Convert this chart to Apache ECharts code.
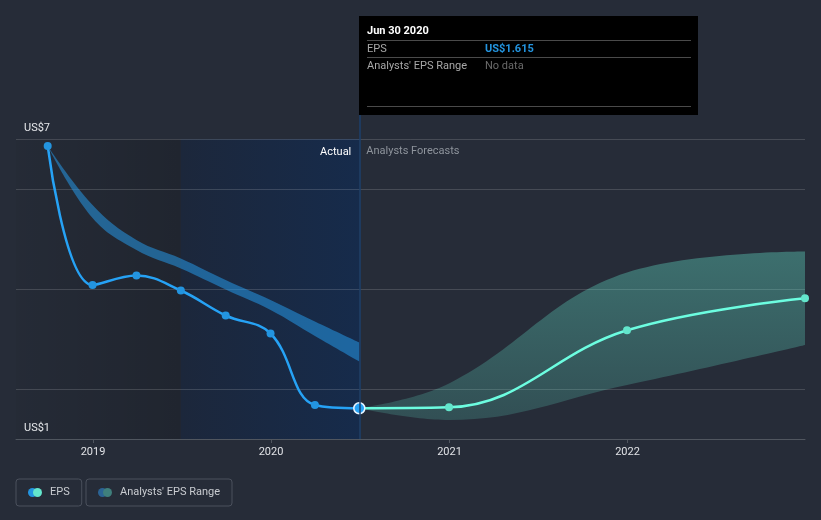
<!DOCTYPE html>
<html><head><meta charset="utf-8">
<script src="https://cdn.jsdelivr.net/npm/echarts@6/dist/echarts.min.js"></script>
<style>html,body{margin:0;padding:0;background:#262c38;} #c{width:821px;height:520px;}</style>
</head><body><div id="c"></div>
<script>
// ---- data ----
const actualDates = ['2018-09-30','2018-12-31','2019-03-31','2019-06-30','2019-09-30','2019-12-31','2020-03-31','2020-06-30'];
const actualEps = [6.86, 4.08, 4.27, 3.97, 3.47, 3.11, 1.68, 1.615];
const pastRangeHigh = [6.86, 5.68, 4.98, 4.61, 4.18, 3.78, 3.35, 2.93];
const pastRangeLow = [6.86, 5.42, 4.78, 4.41, 3.99, 3.58, 3.06, 2.55];
const forecastDates = ['2020-06-30','2020-12-31','2021-12-31','2022-12-31'];
const forecastEps = [1.615, 1.633, 3.174, 3.814];
const forecastHigh = [1.615, 2.11, 4.33, 4.75];
const forecastLow = [1.615, 1.38, 2.08, 2.88];
const yGridValues = [2, 4, 6];
const yLabelValues = [1, 7];
const xStart = '2018-07-27', xEnd = '2022-12-31';
const lastActualLabel = 'Jun 30 2020';
const lastActualDate = actualDates[actualDates.length - 1];
const lastYearStart = actualDates[3];

const FONT = 'Roboto';
const FS = 11;
const pair = (dates, vals) => dates.map((d, i) => [d, vals[i]]);
const diff = (hi, lo) => hi.map((v, i) => +(v - lo[i]).toFixed(4));

const svgIcon = (c1, c2) => 'image://data:image/svg+xml;utf8,' + encodeURIComponent(
  `<svg xmlns="http://www.w3.org/2000/svg" width="17" height="9" viewBox="0 0 17 9"><circle cx="4.5" cy="4.5" r="4.5" fill="${c1}"/><circle cx="9.5" cy="4.5" r="4.5" fill="${c2}"/></svg>`);

const chart = echarts.init(document.getElementById('c'), null, {renderer: 'canvas'});

const actualData = pair(actualDates, actualEps).map((p, i, arr) => i === arr.length - 1
  ? {value: p, symbolSize: 10, itemStyle: {borderColor: '#e8f4ff', borderWidth: 1.5}} : p);
const forecastData = pair(forecastDates, forecastEps).map((p, i) => i === 0 ? {value: p, symbol: 'none'} : p);

const gridLineData = yGridValues.map(v => ({yAxis: v}));
const labelLineData = yLabelValues.map(v => ({
  yAxis: v,
  lineStyle: {color: v === yLabelValues[0] ? '#50565f' : 'rgba(255,255,255,0.15)'},
  label: {show: true, position: 'insideStartTop', formatter: 'US$' + v, color: '#e6e8eb',
          fontSize: FS, fontFamily: FONT, distance: [8, 5]}
}));

const legendBase = {
  top: 479, padding: [8, 12, 8, 12], borderColor: '#4a505c', borderWidth: 1, borderRadius: 3,
  itemWidth: 17, itemHeight: 9, selectedMode: false,
  textStyle: {color: '#c9ccd1', fontSize: FS, fontFamily: FONT}
};

const option = {
  backgroundColor: '#262c38',
  animation: false,
  grid: {left: 16, right: 16, top: 115, bottom: 81, containLabel: false},
  xAxis: {
    type: 'time', min: xStart, max: xEnd, splitNumber: 4,
    axisLine: {lineStyle: {color: '#50565f'}},
    axisTick: {show: true, length: 4, lineStyle: {color: '#50565f'}},
    axisLabel: {color: '#e0e2e6', fontSize: FS, fontFamily: FONT, formatter: '{yyyy}',
                showMinLabel: false, showMaxLabel: false, margin: 8},
    splitLine: {show: false}
  },
  yAxis: {
    type: 'value', min: 1, max: 7.48,
    axisLabel: {show: false}, axisLine: {show: false}, axisTick: {show: false}, splitLine: {show: false}
  },
  tooltip: {
    trigger: 'axis', triggerOn: 'none', alwaysShowContent: true, transitionDuration: 0,
    backgroundColor: '#000', borderWidth: 0, padding: [7, 7, 8, 8],
    position: [359, 16],
    extraCssText: 'box-shadow:none;border-radius:0;',
    axisPointer: {type: 'line', animation: false, label: {show: false},
                  lineStyle: {color: '#1d3f6b', width: 1.5, type: 'solid'}},
    formatter: () => {
      const v = actualEps[actualEps.length - 1];
      return `<div style="width:324px;font-family:Roboto,sans-serif;font-size:11px;line-height:16px;">
        <div style="color:#fff;font-weight:bold;border-bottom:1px solid #4a4a4a;height:17px;">${lastActualLabel}</div>
        <div style="display:flex;border-bottom:1px solid #4a4a4a;height:16px;"><span style="width:118px;color:#a8a8a8;">EPS</span><span style="color:#2394df;font-weight:bold;">US$${v}</span></div>
        <div style="display:flex;border-bottom:1px solid #4a4a4a;height:48px;"><span style="width:118px;color:#a8a8a8;">Analysts' EPS Range</span><span style="color:#6a6a6a;">No data</span></div>
      </div>`;
    }
  },
  legend: [
    Object.assign({data: [{name: 'EPS', icon: svgIcon('#2394df', '#63e6cc')}], left: 16}, legendBase),
    Object.assign({data: [{name: "Analysts' EPS Range", icon: svgIcon('#2b6394', '#3f7f7c')}], left: 86}, legendBase)
  ],
  series: [
    {
      name: 'pastLow', type: 'line', stack: 'past', smooth: 0.4, symbol: 'none', silent: true,
      lineStyle: {opacity: 0}, data: pair(actualDates, pastRangeLow), z: 2,
      markArea: {
        silent: true, z: 1,
        data: [
          [{xAxis: xStart, yAxis: 1, itemStyle: {color: new echarts.graphic.LinearGradient(0, 0, 1, 0, [
              {offset: 0, color: 'rgba(0,0,0,0.03)'}, {offset: 1, color: 'rgba(0,0,0,0.16)'}])},
            label: {show: false}},
           {xAxis: lastYearStart, yAxis: 7}],
          [{xAxis: lastYearStart, yAxis: 1, name: 'Actual', itemStyle: {color: new echarts.graphic.LinearGradient(0, 0, 1, 0, [
              {offset: 0, color: '#1c273b'}, {offset: 1, color: '#162b4b'}])},
            label: {show: true, position: 'insideTopRight', distance: 8, color: '#ffffff', fontSize: FS, fontFamily: FONT}},
           {xAxis: lastActualDate, yAxis: 7}],
          [{xAxis: lastActualDate, yAxis: 1, name: 'Analysts Forecasts', itemStyle: {color: 'rgba(0,0,0,0)'},
            label: {show: true, position: 'insideTopLeft', distance: 7, color: '#8e949c', fontSize: FS, fontFamily: FONT}},
           {xAxis: xEnd, yAxis: 7}]
        ]
      },
      markLine: {
        silent: true, symbol: ['none', 'none'], z: 1,
        lineStyle: {color: 'rgba(255,255,255,0.15)', width: 1, type: 'solid'},
        label: {show: false},
        data: gridLineData.concat(labelLineData)
      }
    },
    {
      name: "Analysts' EPS Range", type: 'line', stack: 'past', smooth: 0.4, symbol: 'none', silent: true,
      lineStyle: {opacity: 0}, color: '#2b6394',
      areaStyle: {color: 'rgba(35,148,223,0.5)', opacity: 1},
      data: pair(actualDates, diff(pastRangeHigh, pastRangeLow)), z: 2
    },
    {
      name: 'fcLow', type: 'line', stack: 'fc', smooth: 0.4, symbol: 'none', silent: true,
      lineStyle: {opacity: 0}, data: pair(forecastDates, forecastLow), z: 2
    },
    {
      name: "Analysts' EPS Range", type: 'line', stack: 'fc', smooth: 0.4, symbol: 'none', silent: true,
      lineStyle: {opacity: 0}, color: '#3f7f7c',
      areaStyle: {opacity: 1, color: new echarts.graphic.LinearGradient(0, 0, 0, 1, [
        {offset: 0, color: 'rgba(99,230,204,0.32)'}, {offset: 1, color: 'rgba(99,230,204,0.17)'}])},
      data: pair(forecastDates, diff(forecastHigh, forecastLow)), z: 2
    },
    {
      name: 'EPS', type: 'line', smooth: 0.4, symbol: 'circle', symbolSize: 8, showAllSymbol: true,
      color: '#2394df', lineStyle: {width: 2.5, color: '#2394df'}, itemStyle: {color: '#2394df'},
      data: actualData, z: 5
    },
    {
      name: 'EPS', type: 'line', smooth: 0.4, symbol: 'circle', symbolSize: 8, showAllSymbol: true,
      color: '#63e6cc', lineStyle: {width: 2.5, color: '#63e6cc'}, itemStyle: {color: '#63e6cc'},
      data: forecastData, z: 4
    }
  ]
};
chart.setOption(option);
chart.dispatchAction({type: 'showTip', seriesIndex: 4, dataIndex: actualDates.length - 1});
</script></body></html>
